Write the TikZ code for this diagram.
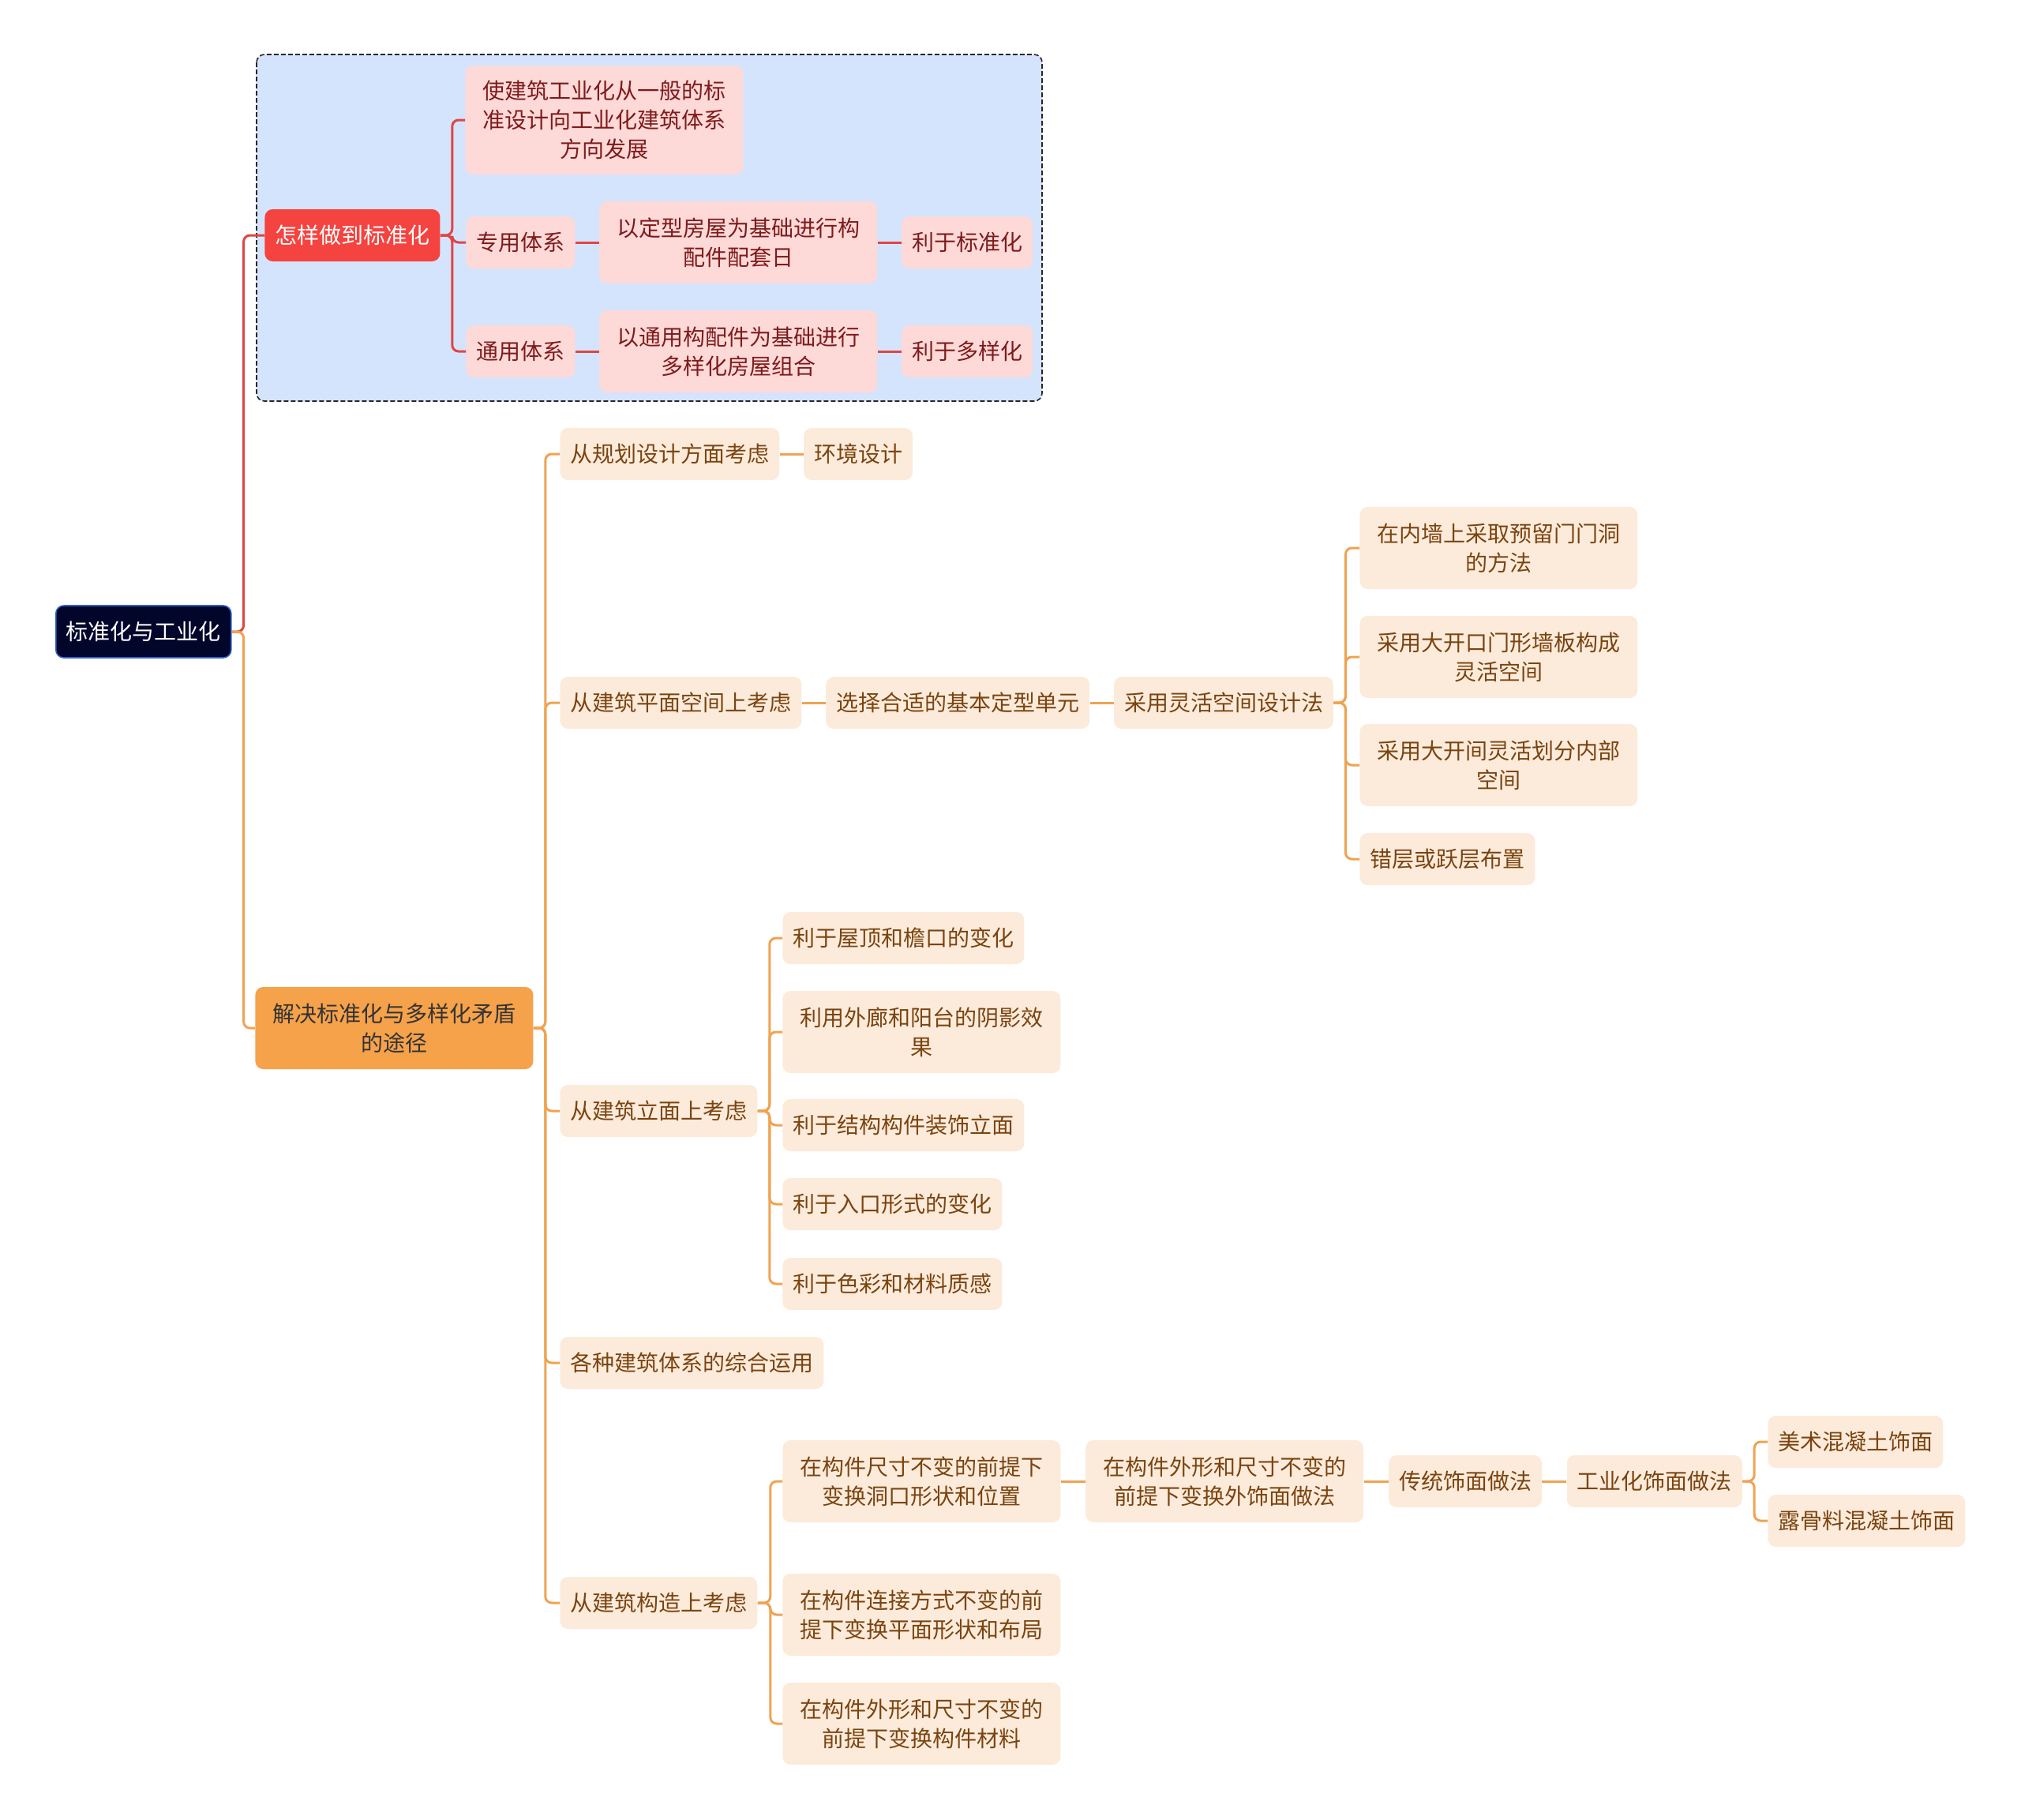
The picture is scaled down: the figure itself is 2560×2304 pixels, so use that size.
\documentclass[tikz,border=0pt]{standalone}
\usepackage{fontspec}
\setmainfont{Noto Sans CJK SC}
\definecolor{rootnavy}{HTML}{02062B}
\definecolor{rootedge}{HTML}{2F63C8}
\definecolor{redhead}{HTML}{F5433F}
\definecolor{redpale}{HTML}{FDD9D8}
\definecolor{redtext}{HTML}{7E1B1B}
\definecolor{linered}{HTML}{E04545}
\definecolor{grpblue}{HTML}{D4E4FC}
\definecolor{orghead}{HTML}{F5A24B}
\definecolor{orgpale}{HTML}{FCEBDB}
\definecolor{orgtext}{HTML}{7A4410}
\definecolor{lineorg}{HTML}{EFA352}
\usepackage{tikz}
\usetikzlibrary{positioning}

\begin{document}
\begin{tikzpicture}[
      x=0.5pt, y=-0.5pt,
      box/.style={rounded corners=5pt, inner xsep=6.5pt, inner ysep=0pt, minimum height=33pt, align=center, font=\fontsize{14pt}{18.5pt}\selectfont},
      rootbox/.style={box, fill=rootnavy, draw=rootedge, line width=0.8pt, text=white},
      redhub/.style={box, fill=redhead, text=white},
      redleaf/.style={box, fill=redpale, text=redtext},
      orghub/.style={box, fill=orghead, text=black!80},
      orgleaf/.style={box, fill=orgpale, text=orgtext},
      wide/.style={minimum width=176pt},
      twoline/.style={minimum height=52pt},
      threeline/.style={minimum height=69pt},
      redlink/.style={linered, line width=1.5pt, rounded corners=4pt},
      orglink/.style={lineorg, line width=1.5pt, rounded corners=4pt}
    ]
      \useasboundingbox (0,0) rectangle (2560,2304);

      % group frame behind the first branch
      \draw[fill=grpblue, draw=black!85, dash pattern=on 3pt off 1.5pt, line width=0.8pt, rounded corners=5pt] (325,69) rectangle (1320,508);

      \node[rootbox, anchor=west] (root) at (70,800) {标准化与工业化};

      % first branch
      \node[redhub, anchor=west] (how) at (335,298) {怎样做到标准化};
      \node[redleaf, wide, threeline, anchor=west] (aim) at (589,152) {使建筑工业化从一般的标\\准设计向工业化建筑体系\\方向发展};
      \node[redleaf, anchor=west] (spec) at (590,307) {专用体系};
      \node[redleaf, wide, twoline, right=15pt of spec] (specway) {以定型房屋为基础进行构\\配件配套日};
      \node[redleaf, right=15pt of specway] (specgain) {利于标准化};
      \node[redleaf, anchor=west] (gen) at (590,445) {通用体系};
      \node[redleaf, wide, twoline, right=15pt of gen] (genway) {以通用构配件为基础进行\\多样化房屋组合};
      \node[redleaf, right=15pt of genway] (gengain) {利于多样化};

      % second branch
      \node[orghub, wide, twoline, anchor=west] (solve) at (323,1302) {解决标准化与多样化矛盾\\的途径};
      \node[orgleaf, anchor=west] (plan) at (709,575) {从规划设计方面考虑};
      \node[orgleaf, right=15pt of plan] (env) {环境设计};
      \node[orgleaf, anchor=west] (floor) at (709,890) {从建筑平面空间上考虑};
      \node[orgleaf, right=15pt of floor] (unit) {选择合适的基本定型单元};
      \node[orgleaf, right=15pt of unit] (flex) {采用灵活空间设计法};
      \node[orgleaf, wide, twoline, anchor=west] (flexa) at (1722,694) {在内墙上采取预留门门洞\\的方法};
      \node[orgleaf, wide, twoline, anchor=west] (flexb) at (1722,832) {采用大开口门形墙板构成\\灵活空间};
      \node[orgleaf, wide, twoline, anchor=west] (flexc) at (1722,969) {采用大开间灵活划分内部\\空间};
      \node[orgleaf, anchor=west] (flexd) at (1722,1088) {错层或跃层布置};
      \node[orgleaf, anchor=west] (face) at (709,1407) {从建筑立面上考虑};
      \node[orgleaf, anchor=west] (facea) at (991,1188) {利于屋顶和檐口的变化};
      \node[orgleaf, wide, twoline, anchor=west] (faceb) at (991,1307) {利用外廊和阳台的阴影效\\果};
      \node[orgleaf, anchor=west] (facec) at (991,1425) {利于结构构件装饰立面};
      \node[orgleaf, anchor=west] (faced) at (991,1525) {利于入口形式的变化};
      \node[orgleaf, anchor=west] (facee) at (991,1626) {利于色彩和材料质感};
      \node[orgleaf, anchor=west] (mix) at (709,1726) {各种建筑体系的综合运用};
      \node[orgleaf, anchor=west] (cons) at (709,2030) {从建筑构造上考虑};
      \node[orgleaf, wide, twoline, anchor=west] (consa) at (991,1876) {在构件尺寸不变的前提下\\变换洞口形状和位置};
      \node[orgleaf, wide, twoline, right=15.5pt of consa] (outer) {在构件外形和尺寸不变的\\前提下变换外饰面做法};
      \node[orgleaf, right=15.5pt of outer] (trad) {传统饰面做法};
      \node[orgleaf, right=15.5pt of trad] (ind) {工业化饰面做法};
      \node[orgleaf, anchor=west] (art) at (2239,1826) {美术混凝土饰面};
      \node[orgleaf, anchor=west] (aggr) at (2239,1926) {露骨料混凝土饰面};
      \node[orgleaf, wide, twoline, anchor=west] (consb) at (991,2045) {在构件连接方式不变的前\\提下变换平面形状和布局};
      \node[orgleaf, wide, twoline, anchor=west] (consc) at (991,2183) {在构件外形和尺寸不变的\\前提下变换构件材料};

      % links
      \draw[redlink] (root.east) -- ++(15,0) |- (how.west);
      \draw[orglink] (root.east) -- ++(15,0) |- (solve.west);
      \draw[redlink] (how.east) -- ++(15,0) |- (aim.west);
      \draw[redlink] (how.east) -- ++(15,0) |- (spec.west);
      \draw[redlink] (how.east) -- ++(15,0) |- (gen.west);
      \draw[redlink] (spec) -- (specway);
      \draw[redlink] (specway) -- (specgain);
      \draw[redlink] (gen) -- (genway);
      \draw[redlink] (genway) -- (gengain);
      \draw[orglink] (solve.east) -- ++(15,0) |- (plan.west);
      \draw[orglink] (solve.east) -- ++(15,0) |- (floor.west);
      \draw[orglink] (solve.east) -- ++(15,0) |- (face.west);
      \draw[orglink] (solve.east) -- ++(15,0) |- (mix.west);
      \draw[orglink] (solve.east) -- ++(15,0) |- (cons.west);
      \draw[orglink] (plan) -- (env);
      \draw[orglink] (floor) -- (unit);
      \draw[orglink] (unit) -- (flex);
      \draw[orglink] (flex.east) -- ++(15,0) |- (flexa.west);
      \draw[orglink] (flex.east) -- ++(15,0) |- (flexb.west);
      \draw[orglink] (flex.east) -- ++(15,0) |- (flexc.west);
      \draw[orglink] (flex.east) -- ++(15,0) |- (flexd.west);
      \draw[orglink] (face.east) -- ++(15,0) |- (facea.west);
      \draw[orglink] (face.east) -- ++(15,0) |- (faceb.west);
      \draw[orglink] (face.east) -- ++(15,0) |- (facec.west);
      \draw[orglink] (face.east) -- ++(15,0) |- (faced.west);
      \draw[orglink] (face.east) -- ++(15,0) |- (facee.west);
      \draw[orglink] (cons.east) -- ++(16,0) |- (consa.west);
      \draw[orglink] (cons.east) -- ++(16,0) |- (consb.west);
      \draw[orglink] (cons.east) -- ++(16,0) |- (consc.west);
      \draw[orglink] (consa) -- (outer);
      \draw[orglink] (outer) -- (trad);
      \draw[orglink] (trad) -- (ind);
      \draw[orglink] (ind.east) -- ++(15,0) |- (art.west);
      \draw[orglink] (ind.east) -- ++(15,0) |- (aggr.west);
    \end{tikzpicture}
\end{document}
